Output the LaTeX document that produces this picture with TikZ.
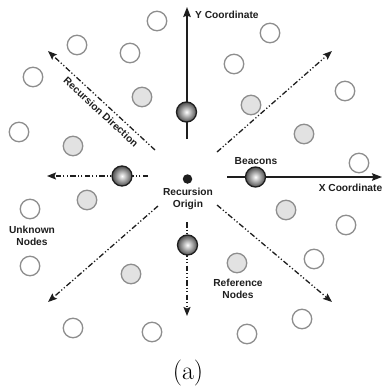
\documentclass[tikz,border=0pt]{standalone}
\usepackage{fontspec}
\usetikzlibrary{arrows.meta}
\newfontfamily\lblfont{Liberation Sans}
\definecolor{ink}{HTML}{1E1E1E}
\definecolor{rim}{HTML}{8E8E8E}
\definecolor{reffill}{HTML}{E2E2E2}
\begin{document}
\begin{tikzpicture}[x=1pt,y=-1pt,
  unknown/.style={circle,draw=rim,line width=1.3pt,fill=white,minimum size=19.5pt,inner sep=0pt},
  refnode/.style={unknown,fill=reffill},
  beacon/.style={circle,draw=ink,line width=1.3pt,minimum size=20pt,inner sep=0pt,
    shading=radial,inner color=white,outer color=gray!60!black},
  lbl/.style={font=\lblfont\bfseries\fontsize{10.2}{12}\selectfont,text=ink,align=center,inner sep=0pt},
  axis/.style={draw=ink,line width=1.5pt,-{Stealth[length=10pt,width=7.5pt,inset=1.5pt]}},
  probe/.style={draw=ink,line width=1.3pt,dash pattern=on 5.5pt off 2.2pt on 1.2pt off 2.2pt on 1.2pt off 2.2pt,
    -{Stealth[length=9pt,width=7pt,inset=1.5pt]}}]
\useasboundingbox (0,0) rectangle (382,392);

% recursion origin
\node[circle,fill=ink,minimum size=9.5pt,inner sep=0pt] (o) at (187.5,179) {};
\node[lbl] (olbl) at (188,199) {Recursion\\Origin};

% end points of the axes and recursion directions
\coordinate (ys) at (187,139);  \coordinate (yt) at (187,7);
\coordinate (xs) at (227,177);  \coordinate (xt) at (382,177);
\coordinate (ws) at (148,176);  \coordinate (wt) at (47,176);
\coordinate (ss) at (187,222);  \coordinate (st) at (187,316);
\coordinate (nws) at (155,150); \coordinate (nwt) at (48,51);
\coordinate (nes) at (217,152); \coordinate (net) at (332,51);
\coordinate (sws) at (158,206); \coordinate (swt) at (48,302);
\coordinate (ses) at (217,205); \coordinate (set) at (332,302);

% coordinate axes
\draw[axis] (ys) -- (yt);
\draw[axis] (xs) -- (xt);

% recursion directions
\draw[probe] (ws) -- (wt);
\draw[probe] (ss) -- (st);
\draw[probe] (nws) -- (nwt);
\draw[probe] (nes) -- (net);
\draw[probe] (sws) -- (swt);
\draw[probe] (ses) -- (set);

% beacons
\node[beacon] (b1) at (186.5,112) {};
\node[beacon] (b2) at (255.5,177) {};
\node[beacon] (b3) at (122,176) {};
\node[beacon] (b4) at (187.5,245) {};

% unknown nodes
\foreach \n/\p in {u1/{(157,21)},u2/{(77,45)},u3/{(130,53)},u4/{(33,77)},u5/{(19,132)},
  u6/{(270,33)},u7/{(234,64)},u8/{(345,91)},u9/{(359,163)},u10/{(30,209)},u11/{(30,266)},
  u12/{(73,328)},u13/{(152,332)},u14/{(346,225)},u15/{(314,259)},u16/{(302,319)},u17/{(247,334)}}
  \node[unknown] (\n) at \p {};

% reference nodes
\foreach \n/\p in {r1/{(142,97)},r2/{(73,146)},r3/{(87,200)},r4/{(251,105)},r5/{(304,134)},
  r6/{(131,274)},r7/{(286,210)},r8/{(237,263)}}
  \node[refnode] (\n) at \p {};

% labels
\node[lbl,anchor=west] (ylbl) at (195,15) {Y Coordinate};
\node[lbl] (xlbl) at (350.5,188) {X Coordinate};
\node[lbl] (blbl) at (256,161) {Beacons};
\node[lbl] (ulbl) at (32,236) {Unknown\\Nodes};
\node[lbl] (rlbl) at (238,289) {Reference\\Nodes};
\node[lbl,rotate=-42.5] (dlbl) at (101,112) {Recursion Direction};

% caption
\node[font=\fontsize{26}{30}\selectfont,inner sep=0pt] (cap) at (188,373) {(a)};
\end{tikzpicture}
\end{document}
